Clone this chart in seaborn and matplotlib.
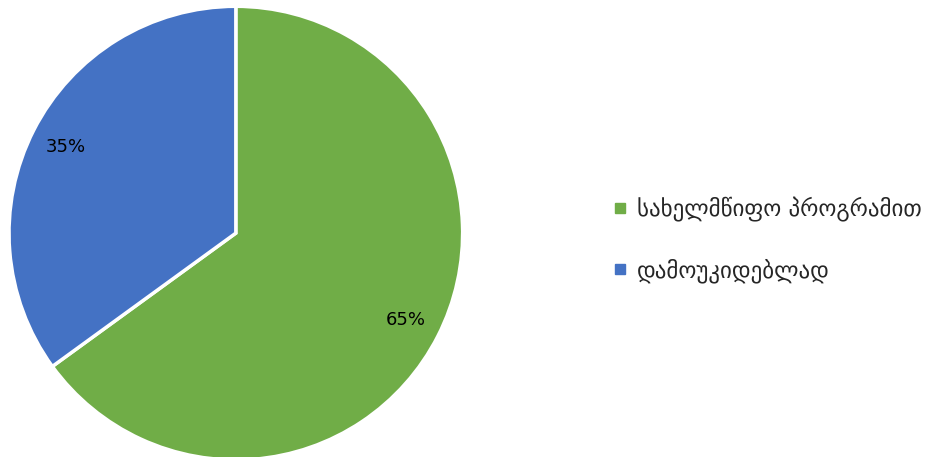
import seaborn as sns
import matplotlib.pyplot as plt
from matplotlib.lines import Line2D

sns.set_theme(style="white")
plt.rcParams["font.family"] = ["DejaVu Sans"]

categories = ["სახელმწიფო პროგრამით", "დამოუკიდებლად"]
shares = [65, 35]
colors = sns.color_palette(["#70ad47", "#4472c4"])

fig = plt.figure(figsize=(9.49, 4.57), dpi=100)
ax = fig.add_axes([0.0095, -0.0066, 0.478, 0.993])

wedges, texts, autotexts = ax.pie(
    shares,
    colors=colors,
    startangle=90,
    counterclock=False,
    autopct="%d%%",
    pctdistance=0.84,
    wedgeprops=dict(edgecolor="white", linewidth=2.5),
    textprops=dict(fontsize=13, color="black"),
)
ax.set_xlim(-1, 1)
ax.set_ylim(-1, 1)
ax.set_aspect("equal")

handles = [
    Line2D([], [], marker="s", linestyle="", markersize=7, color=c)
    for c in colors
]
fig.legend(
    handles,
    categories,
    loc="center left",
    bbox_to_anchor=(0.62, 0.475),
    frameon=False,
    fontsize=16.5,
    labelspacing=1.6,
    handletextpad=0.2,
    handlelength=1.0,
)

fig.savefig("out.png", dpi=100, facecolor="white")
